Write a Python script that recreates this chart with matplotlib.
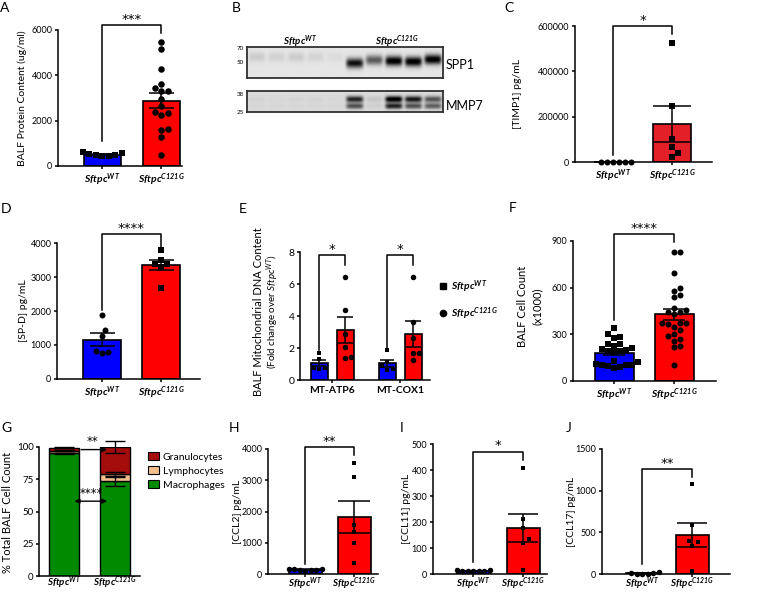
import numpy as np
import matplotlib
matplotlib.use('Agg')
import matplotlib.pyplot as plt
from matplotlib.lines import Line2D
from matplotlib.patches import Patch
from matplotlib.ticker import FuncFormatter

plt.rcParams['font.family'] = ['Lato', 'DejaVu Sans']
plt.rcParams['mathtext.fontset'] = 'custom'
plt.rcParams['mathtext.rm'] = 'Lato:italic:bold'
plt.rcParams['mathtext.it'] = 'Lato:italic:bold'
plt.rcParams['mathtext.sf'] = 'Lato:italic'

WT = r'$\mathrm{Sftpc}^{\mathrm{WT}}$'
MUT = r'$\mathrm{Sftpc}^{\mathrm{C121G}}$'

# ---- data ----
# A  BALF protein (ug/ml)
a_wt = [470, 420, 560, 490, 610, 430, 540]
a_mut = [5460, 5160, 4260, 3600, 3450, 3310, 3300, 2960, 2650, 2320, 2380,
         2240, 1650, 1610, 1280, 470]
# B  western blot band intensities (5 WT lanes, 5 C121G lanes)
spp1_int = [0.10, 0.08, 0.10, 0.07, 0.04, 0.85, 0.55, 0.95, 0.95, 0.95]
spp1_pos = [0.32, 0.32, 0.32, 0.32, 0.32, 0.52, 0.42, 0.45, 0.47, 0.40]
mmp7_upper = [0.03, 0.02, 0.03, 0.03, 0.02, 0.75, 0.08, 0.95, 0.80, 0.55]
mmp7_lower = [0.02, 0.02, 0.02, 0.02, 0.02, 0.55, 0.05, 0.75, 0.55, 0.50]
# C  TIMP1 pg/mL
c_wt = [1500, 2000, 1800, 2200, 1600, 1900]
c_mut = [525000, 245000, 101000, 67000, 38000, 20000]
# D  SP-D pg/mL
d_wt = [1880, 1430, 1270, 770, 810, 780]
d_mut = [3785, 3510, 3375, 3375, 3305, 2690]
# E  mitochondrial DNA, fold change
e_genes = ['MT-ATP6', 'MT-COX1']
e_wt = [[1.67, 1.30, 0.75, 0.70, 0.78], [1.85, 1.15, 0.85, 0.70, 0.65]]
e_mut = [[6.43, 4.38, 2.90, 2.05, 1.45, 1.40], [6.43, 3.65, 2.61, 1.67, 1.67, 1.25]]
# F  BALF cell count (x1000)
f_wt = [343, 300, 285, 275, 240, 235, 225, 210, 205, 200, 195, 190, 185, 130,
        120, 110, 105, 100, 95, 90, 85, 100]
f_mut = [831, 831, 692, 600, 578, 550, 540, 472, 457, 446, 446, 431, 375, 375,
         370, 364, 349, 328, 300, 289, 268, 259, 227, 220, 103]
# G  % total BALF cell count
g_cells = ['Macrophages', 'Lymphocytes', 'Granulocytes']
g_mean = {'Macrophages': [95.0, 73.5], 'Lymphocytes': [2.0, 5.5], 'Granulocytes': [2.5, 21.0]}
g_err = {'Macrophages': [0.6, 3.5], 'Lymphocytes': [0.4, 1.7], 'Granulocytes': [0.5, 5.0]}
g_colors = {'Macrophages': '#008a00', 'Lymphocytes': '#f6c08e', 'Granulocytes': '#a50d0d'}
# H-J chemokines pg/mL
h_wt = [170, 130, 150, 120, 160, 110, 140]
h_mut = [3560, 3110, 1570, 1340, 995, 366]
i_wt = [12, 14, 13, 12, 15, 11, 13]
i_mut = [408, 212, 177, 136, 119, 16]
j_wt = [27, 10, 5, 8, 5, 6]
j_mut = [1080, 590, 395, 380, 340, 40]

W, H = 781, 594
fig = plt.figure(figsize=(W / 100, H / 100), dpi=100)
BLUE, RED = '#0000ff', '#ff0000'


def add_ax(x0, x1, yt, yb):
    return fig.add_axes([x0 / W, 1 - yb / H, (x1 - x0) / W, (yb - yt) / H])


def ftext(x, y, s, **kw):
    return fig.text(x / W, 1 - y / H, s, **kw)


def style(ax, yticks, fs=6.5):
    for s in ['top', 'right']:
        ax.spines[s].set_visible(False)
    for s in ['left', 'bottom']:
        ax.spines[s].set_linewidth(1.1)
    ax.set_yticks(yticks)
    ax.yaxis.set_major_formatter(FuncFormatter(lambda v, p: '%d' % v))
    ax.tick_params(axis='both', direction='out', length=2.5, width=1.1, labelsize=fs, pad=1.5)
    ax.patch.set_alpha(0)


def swarm(ax, xc, vals, d):
    t = ax.transData
    ppu = t.transform((xc + 1, 0))[0] - t.transform((xc, 0))[0]
    ys = [t.transform((xc, v))[1] for v in vals]
    placed = []
    offs = np.zeros(len(vals))
    for i in np.argsort(vals):
        y = ys[i]
        k = 0
        found = None
        while found is None:
            cands = [0.0] if k == 0 else [k * d / 2, -k * d / 2]
            for c in cands:
                if all((c - px) ** 2 + (y - py) ** 2 >= (0.95 * d) ** 2 for px, py in placed):
                    found = c
                    break
            k += 1
        placed.append((found, y))
        offs[i] = found
    return xc + offs / ppu


def bar_dots(ax, x, vals, color, marker, bw, cap, ms):
    mean = np.mean(vals)
    sem = np.std(vals, ddof=1) / np.sqrt(len(vals))
    ax.bar(x, mean, bw, color=color, edgecolor='k', linewidth=1.2, zorder=2)
    xs = swarm(ax, x, vals, ms)
    sz = (ms * 0.72) ** 2 * (0.8 if marker == 's' else 1.0)
    ax.scatter(xs, vals, s=sz, marker=marker, c='k', linewidths=0, zorder=3, clip_on=False)
    ax.errorbar(x, mean, yerr=sem, fmt='none', ecolor='k', elinewidth=1.1,
                capsize=cap * 0.72 / 2, capthick=1.1, zorder=4)


def bracket(ax, xl, xr, top, lb, rb, stars):
    ax.plot([xl, xl, xr, xr], [lb, top, top, rb], color='k', lw=1.1, clip_on=False, zorder=5)
    ax.annotate(stars, ((xl + xr) / 2, top), xytext=(0, 1.5), textcoords='offset points',
                ha='center', va='baseline', fontsize=9.5, family='DejaVu Sans',
                annotation_clip=False)


def dot_panel(box, centers, ymax, ystep, wt, mut, wt_m, mut_m, ylabel, ylx, br,
              bw_px, cap_px, ms, mut_color=RED, xpad=1.5, xfs=7.5):
    x0, x1, yt, yb = box
    ax = add_ax(x0, x1, yt, yb)
    unit = centers[1] - centers[0]
    ax.set_xlim((x0 - centers[0]) / unit, (x1 - centers[0]) / unit)
    ax.set_ylim(0, ymax)
    style(ax, np.arange(0, ymax + 1, ystep))
    bar_dots(ax, 0, wt, BLUE, wt_m, bw_px / unit, cap_px, ms)
    bar_dots(ax, 1, mut, mut_color, mut_m, bw_px / unit, cap_px, ms)
    ax.set_xticks([0, 1])
    ax.set_xticklabels([WT, MUT], fontsize=xfs)
    ax.tick_params(axis='x', pad=xpad)
    bracket(ax, 0, 1, *br)
    if ylabel:
        ftext(ylx, (yt + yb) / 2, ylabel, rotation=90, ha='center', va='center', fontsize=7.5)
    return ax


# ---- A ----
dot_panel((58, 182, 30, 166), (102, 161), 6000, 2000, a_wt, a_mut, 's', 'o',
          'BALF Protein Content (ug/ml)', 22, (6220, 1100, 5850, '***'), 37, 25, 6.5)

# ---- B: western blot ----
def blot(box, bands, bg):
    ax = add_ax(*box)
    x = np.linspace(-0.5, 9.5, 400)
    y = np.linspace(0, 1, 80)
    X, Y = np.meshgrid(x, y)
    img = np.full(X.shape, bg)
    for inten, pos, sy in bands:
        for i, (v, yc) in enumerate(zip(inten, pos)):
            img -= v * np.exp(-((X - i) / 0.44) ** 6) * np.exp(-((Y - yc) / sy) ** 2)
    ax.imshow(np.clip(img, 0, 1), cmap='gray', vmin=0, vmax=1, extent=(-0.5, 9.5, 1, 0),
              aspect='auto', interpolation='bilinear')
    ax.set_xticks([])
    ax.set_yticks([])
    for s in ax.spines.values():
        s.set_linewidth(1.3)
        s.set_color('#303030')
    return ax


blot((247, 443, 47, 78), [(spp1_int, spp1_pos, 0.16)], 0.9)
blot((247, 443, 91, 112), [(mmp7_upper, [0.39] * 10, 0.15), (mmp7_lower, [0.72] * 10, 0.14)], 0.86)
ftext(300, 42, WT, ha='center', va='center', fontsize=7)
ftext(397, 42, MUT, ha='center', va='center', fontsize=7)
for lab, yy in [('70', 48), ('50', 62), ('38', 94), ('25', 112)]:
    ftext(244, yy, lab, ha='right', va='center', fontsize=4.5)
ftext(446, 65, 'SPP1', ha='left', va='center', fontsize=9)
ftext(446, 106, 'MMP7', ha='left', va='center', fontsize=9)

# ---- C ----
dot_panel((575, 712, 26, 162), (613, 672), 600000, 200000, c_wt, c_mut, 'o', 's',
          '[TIMP1] pg/mL', 517, (600000, 32000, 566000, '*'), 38, 38, 6, mut_color='#e32028')

# ---- D ----
dot_panel((57, 200, 243, 379), (102, 161), 4000, 1000, d_wt, d_mut, 'o', 's',
          '[SP-D] pg/mL', 23, (4274, 2020, 3830, '****'), 38, 25, 6)

# ---- E ----
ax = add_ax(300, 430, 252, 380)
unit = 400 - 332
ax.set_xlim((300 - 332) / unit, (430 - 332) / unit)
ax.set_ylim(0, 8)
style(ax, [0, 2, 4, 6, 8], fs=7.5)
off = 13 / unit
for g in range(2):
    bar_dots(ax, g - off, e_wt[g], BLUE, 's', 17 / unit, 14, 5.5)
    bar_dots(ax, g + off, e_mut[g], RED, 'o', 17 / unit, 16, 5.5)
    bracket(ax, g - off, g + off, 7.8, 1.88, 7.2, '*')
ax.set_xticks([0, 1])
ax.set_xticklabels(e_genes, fontsize=7.5, fontweight='bold')
ftext(259, 312, 'BALF Mitochondrial DNA Content', rotation=90, ha='center', va='center', fontsize=8)
ftext(273, 312, r'(Fold change over $\mathsf{Sftpc}^{\mathsf{WT}}$)', rotation=90,
      ha='center', va='center', fontsize=7)
fig.legend(handles=[Line2D([], [], marker='s', color='k', ls='none', ms=4),
                    Line2D([], [], marker='o', color='k', ls='none', ms=4.5)],
           labels=[WT, MUT], loc='center left', bbox_to_anchor=(429 / W, 1 - 300 / H),
           frameon=False, fontsize=7.5, handlelength=0.8, handletextpad=0.4, labelspacing=1.0)

# ---- F ----
dot_panel((573, 716, 241, 381), (614, 674), 900, 300, f_wt, f_mut, 's', 'o',
          None, 0, (943, 392, 896, '****'), 39, 22, 6)
ftext(523, 306, 'BALF Cell Count', rotation=90, ha='center', va='center', fontsize=8)
ftext(537, 306, '(x1000)', rotation=90, ha='center', va='center', fontsize=8)

# ---- G ----
ax = add_ax(39, 140, 447, 576)
unit = 115 - 64
ax.set_xlim((39 - 64) / unit, (140 - 64) / unit)
ax.set_ylim(0, 100)
style(ax, [0, 25, 50, 75, 100], fs=7)
bottom = np.zeros(2)
for cell in g_cells:
    vals = np.array(g_mean[cell])
    ax.bar([0, 1], vals, 30 / unit, bottom=bottom, color=g_colors[cell], edgecolor='k',
           linewidth=1.0, zorder=2)
    ax.errorbar([0, 1], bottom + vals, yerr=g_err[cell], fmt='none', ecolor='k',
                elinewidth=1.0, capsize=7, capthick=1.0, zorder=4, clip_on=False)
    bottom += vals
ax.set_xticks([0, 1])
ax.set_xticklabels([WT, MUT], fontsize=7)
ax.tick_params(axis='x', length=0, pad=-1.5)
ax.annotate('', xy=(0.9, 98), xytext=(0.28, 98),
            arrowprops=dict(arrowstyle='-|>', color='k', lw=1.0, mutation_scale=7))
ax.annotate('', xy=(0.9, 58), xytext=(0.15, 58),
            arrowprops=dict(arrowstyle='<|-|>', color='k', lw=1.0, mutation_scale=7))
ax.text(0.55, 99, '**', ha='center', va='bottom', fontsize=8.5, family='DejaVu Sans')
ax.text(0.53, 59, '****', ha='center', va='bottom', fontsize=8.5, family='DejaVu Sans')
ftext(8, 512, '% Total BALF Cell Count', rotation=90, ha='center', va='center', fontsize=8)
fig.legend(handles=[Patch(facecolor=g_colors[c], edgecolor='k', lw=0.8) for c in g_cells[::-1]],
           labels=g_cells[::-1], loc='center left', bbox_to_anchor=(139 / W, 1 - 471 / H),
           frameon=False, fontsize=7.5, handlelength=1.0, handleheight=0.8,
           handletextpad=0.4, labelspacing=0.45)

# ---- H, I, J ----
dot_panel((268, 378, 449, 574), (305, 354), 4000, 1000, h_wt, h_mut, 'o', 's',
          '[CCL2] pg/mL', 238, (4050, 314, 3820, '**'), 33, 32, 5.5, xpad=-1.5, xfs=7)
dot_panel((433, 547, 444, 574), (473, 523), 500, 100, i_wt, i_mut, 'o', 's',
          '[CCL11] pg/mL', 406, (471, 48, 439, '*'), 33, 30, 5.5, xpad=-1.5, xfs=7)
dot_panel((602, 730, 449, 574), (642, 692), 1500, 500, j_wt, j_mut, 'o', 's',
          '[CCL17] pg/mL', 572, (1264, 118, 1170, '**'), 33, 30, 5.5, xpad=-1.5, xfs=7)

# panel letters
for lab, x, y in [('A', 5, 8), ('B', 236, 8), ('C', 509, 8), ('D', 6, 209), ('E', 243, 209),
                  ('F', 513, 208), ('G', 6, 428), ('H', 234, 428), ('I', 402, 428),
                  ('J', 569, 428)]:
    ftext(x, y, lab, ha='center', va='center', fontsize=10)

fig.savefig('out.png', dpi=100)
